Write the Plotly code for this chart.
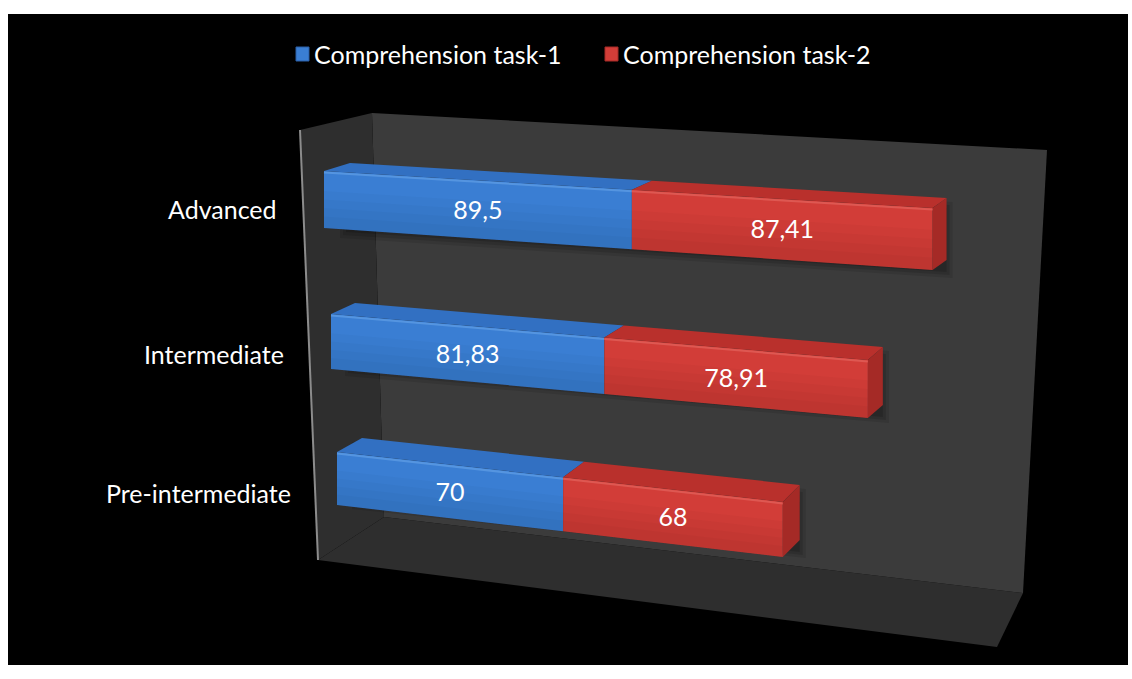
import plotly.graph_objects as go

# ---- data -------------------------------------------------------------
categories = ["Advanced", "Intermediate", "Pre-intermediate"]
series_names = ["Comprehension task-1", "Comprehension task-2"]
task1 = [89.5, 81.83, 70]
task2 = [87.41, 78.91, 68]

# ---- page / projection settings (pixels) --------------------------------
W, H = 1132, 679
FONT = "Lato"
FSIZE = 25

# each category row is a 3-D box seen in perspective; these describe where
# value 0 sits on the front face, how many pixels one unit takes, and how the
# front face edges and the depth direction drift along the row
row_left = [324, 331, 337]
row_scale = [3.44, 3.34, 3.23]
row_top = [171, 314, 452]
row_top_slope = [0.0608, 0.0857, 0.112]
row_bot = [228, 369, 505]
row_bot_slope = [0.069, 0.0912, 0.1166]
row_depth = [(26, -8), (24, -11), (25, -14)]
row_depth_slope = [(-0.0197, -0.0033), (-0.0168, -0.0037), (-0.018, -0.0067)]
label_pos = [(279, 209), (286, 354), (293, 493)]

front_col = ["#3a7ed3", "#d23d38"]
top_col = ["#3270c2", "#b9302c"]
cap_col = ["#2a5fa6", "#a52a26"]
edge_col = ["#5595e0", "#de5852"]


def to_px(i, v):
    return row_left[i] + row_scale[i] * v


def to_val(i, p):
    return (p - row_left[i]) / row_scale[i]


def top_y(i, p):
    return row_top[i] + row_top_slope[i] * (p - row_left[i])


def bot_y(i, p):
    return row_bot[i] + row_bot_slope[i] * (p - row_left[i])


def depth(i, p):
    d = p - row_left[i]
    return (row_depth[i][0] + row_depth_slope[i][0] * d,
            row_depth[i][1] + row_depth_slope[i][1] * d)


def poly(xa, xs, ys, color, **kw):
    return go.Scatter(x=list(xs) + [xs[0]], y=list(ys) + [ys[0]],
                      xaxis=xa, yaxis="y", mode="lines", fill="toself",
                      fillcolor=color, line=dict(width=0),
                      hoverinfo=kw.pop("hoverinfo", "skip"), **kw)


fig = go.Figure()

values = [task1, task2]
for i, cat in enumerate(categories):
    xa = "x%d" % (i + 2)
    start = 0.0
    segs = []
    for k in range(len(values)):
        v0, v1 = start, start + values[k][i]
        segs.append((k, v0, v1))
        start = v1
    vend = segs[-1][2]
    pa, pb = to_px(i, 0), to_px(i, vend)

    # soft shadow of the whole row on the back wall
    for grow, alpha in [(6, 0.10), (3, 0.12), (0, 0.14)]:
        da, db = depth(i, pa), depth(i, pb)
        fig.add_trace(poly(
            xa,
            [to_val(i, pa + da[0] - 4 - grow), to_val(i, pb + db[0] + grow),
             to_val(i, pb + db[0] + grow), to_val(i, pa + da[0] - 4 - grow)],
            [top_y(i, pa) + da[1] + 10 - grow, top_y(i, pb) + db[1] + 10 - grow,
             bot_y(i, pb) + db[1] + 12 + grow, bot_y(i, pa) + da[1] + 12 + grow],
            "rgba(0,0,0,%g)" % alpha))

    # top faces and the end cap
    for k, v0, v1 in segs:
        p0, p1 = to_px(i, v0), to_px(i, v1)
        d0, d1 = depth(i, p0), depth(i, p1)
        fig.add_trace(poly(
            xa,
            [v0, v1, to_val(i, p1 + d1[0]), to_val(i, p0 + d0[0])],
            [top_y(i, p0), top_y(i, p1), top_y(i, p1) + d1[1], top_y(i, p0) + d0[1]],
            top_col[k]))
    k, v0, v1 = segs[-1]
    p1 = to_px(i, v1)
    d1 = depth(i, p1)
    fig.add_trace(poly(
        xa,
        [v1, to_val(i, p1 + d1[0]), to_val(i, p1 + d1[0]), v1],
        [top_y(i, p1), top_y(i, p1) + d1[1], bot_y(i, p1) + d1[1], bot_y(i, p1)],
        cap_col[k]))

    # front faces, shaded gently towards the bottom, with a bevel highlight
    for k, v0, v1 in segs:
        p0, p1 = to_px(i, v0), to_px(i, v1)
        t0, t1 = top_y(i, p0), top_y(i, p1)
        b0, b1 = bot_y(i, p0), bot_y(i, p1)
        fig.add_trace(poly(
            xa, [v0, v1, v1, v0], [t0, t1, b1, b0],
            front_col[k], name=series_names[k], hoverinfo="name"))
        for f in (0.35, 0.5, 0.65, 0.8):
            fig.add_trace(poly(
                xa, [v0, v1, v1, v0],
                [t0 + f * (b0 - t0), t1 + f * (b1 - t1), b1, b0],
                "rgba(0,0,0,0.025)"))
        fig.add_trace(go.Scatter(
            x=[v0, v1], y=[t0 + 1.5, t1 + 1.5],
            xaxis=xa, yaxis="y", mode="lines",
            line=dict(color=edge_col[k], width=2), hoverinfo="skip"))

    # value labels
    for k, v0, v1 in segs:
        pm = to_px(i, (v0 + v1) / 2)
        ym = (top_y(i, pm) + bot_y(i, pm)) / 2 + 3
        txt = ("%g" % values[k][i]).replace(".", ",")
        fig.add_trace(go.Scatter(
            x=[(v0 + v1) / 2], y=[ym], xaxis=xa, yaxis="y",
            mode="text", text=[txt], textposition="middle center",
            textfont=dict(family=FONT, size=FSIZE, color="white"),
            hoverinfo="skip"))

# ---- background: black chart area, walls and floor ---------------------
shapes = [
    dict(type="rect", x0=8, x1=1128, y0=14, y1=665, fillcolor="black",
         line=dict(width=0)),
    # floor
    dict(type="path", path="M318,560 L384,517 L1023,593 L997,647 Z",
         fillcolor="#2e2e2e", line=dict(width=0)),
    # back wall
    dict(type="path", path="M372,113 L1047,150 L1023,593 L384,517 Z",
         fillcolor="#3b3b3b", line=dict(width=0)),
    # side wall
    dict(type="path", path="M300,130 L372,113 L384,517 L318,560 Z",
         fillcolor="#2e2e2e", line=dict(width=0)),
    dict(type="line", x0=300, y0=130, x1=318, y1=560,
         line=dict(color="#8c8c8c", width=2)),
]
for s in shapes:
    s.update(xref="x", yref="y", layer="below")

# legend keys
legend_x = [296, 605]
for k, lx in enumerate(legend_x):
    shapes.append(dict(type="rect", xref="x", yref="y", x0=lx, x1=lx + 13,
                       y0=47, y1=61, fillcolor=front_col[k],
                       line=dict(color=cap_col[k], width=1), layer="above"))

annotations = []
for k, lx in enumerate(legend_x):
    annotations.append(dict(x=lx + 16, y=54, xref="x", yref="y",
                            text=series_names[k], showarrow=False,
                            xanchor="left", yanchor="middle",
                            font=dict(family=FONT, size=FSIZE, color="white")))
for i, cat in enumerate(categories):
    annotations.append(dict(x=label_pos[i][0], y=label_pos[i][1], xref="x", yref="y",
                            text=cat, showarrow=False, xanchor="right",
                            yanchor="middle",
                            font=dict(family=FONT, size=FSIZE, color="white")))

layout_axes = dict(
    xaxis=dict(range=[0, W], domain=[0, 1], visible=False, fixedrange=True),
    yaxis=dict(range=[H, 0], domain=[0, 1], visible=False, fixedrange=True),
)
for i in range(len(categories)):
    layout_axes["xaxis%d" % (i + 2)] = dict(
        range=[to_val(i, 0), to_val(i, W)], overlaying="x", anchor="y",
        visible=False, fixedrange=True)

fig.update_layout(
    width=W, height=H, margin=dict(l=0, r=0, t=0, b=0),
    paper_bgcolor="white", plot_bgcolor="white",
    showlegend=False, shapes=shapes, annotations=annotations,
    **layout_axes)

fig.write_html("out.html")
